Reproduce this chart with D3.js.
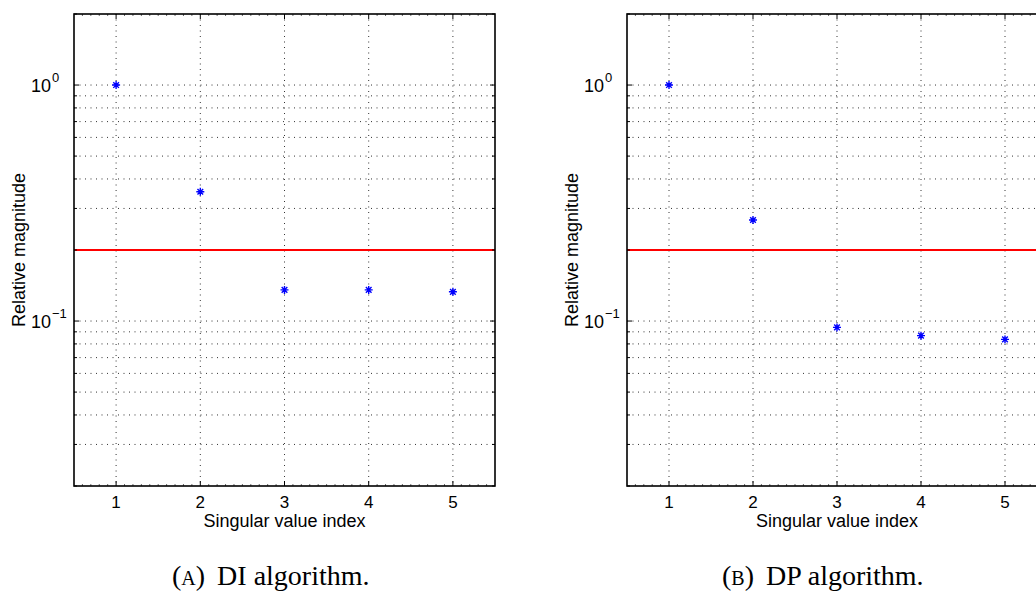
<!DOCTYPE html>
<html>
<head>
<meta charset="utf-8">
<script src="https://cdn.jsdelivr.net/npm/d3@7"></script>
<style>
  body { margin: 0; background: #fff; }
  svg { display: block; }
</style>
</head>
<body>
<svg id="chart" width="1036" height="597"></svg>
<script>
// ---- data ----
const categories = [1, 2, 3, 4, 5];
const diValues = [1.0, 0.353, 0.1355, 0.1355, 0.133];
const dpValues = [1.0, 0.268, 0.094, 0.0867, 0.0836];
const threshold = 0.2;
const yMajorTicks = [0.1, 1];
const yTickExponents = ["\u22121", "0"];
const xLabel = "Singular value index";
const yLabel = "Relative magnitude";
const captions = [["A", "DI algorithm."], ["B", "DP algorithm."]];

const svg = d3.select("#chart");
const panels = [
  { x0: 74, x1: 495, values: diValues, cap: captions[0], capX: 172 },
  { x0: 627, x1: 1047, values: dpValues, cap: captions[1], capX: 722 }
];
const plotTop = 14, plotBottom = 486;
const sans = "Liberation Sans, Arial, Helvetica, sans-serif";

function star(g, cx, cy, r, color) {
  const d = r * Math.SQRT1_2;
  const p = `M${cx - r},${cy}L${cx + r},${cy}M${cx},${cy - r}L${cx},${cy + r}` +
            `M${cx - d},${cy - d}L${cx + d},${cy + d}M${cx - d},${cy + d}L${cx + d},${cy - d}`;
  g.append("path").attr("d", p).attr("stroke", color).attr("stroke-width", 1.4).attr("fill", "none");
}

panels.forEach(p => {
  const g = svg.append("g");
  const x = d3.scaleLinear().domain([0.5, 5.5]).range([p.x0, p.x1]);
  const y = d3.scaleLog().domain([0.02, 2]).range([plotBottom, plotTop]);

  const yAll = [];
  [0.01, 0.1, 1].forEach(dec => { for (let k = 1; k <= 9; k++) { const v = dec * k; if (v >= 0.02 - 1e-9 && v <= 2 + 1e-9) yAll.push(v); } });
  const isMajor = v => yMajorTicks.some(t => Math.abs(t - v) < 1e-9);

  // grid
  yAll.forEach(v => {
    if (Math.abs(v - 2) < 1e-9 || Math.abs(v - 0.02) < 1e-9) return;
    g.append("line").attr("x1", p.x0).attr("x2", p.x1).attr("y1", y(v)).attr("y2", y(v))
      .attr("stroke", "#333").attr("stroke-width", 1).attr("stroke-dasharray", "1,4.5");
  });
  categories.forEach(c => {
    g.append("line").attr("x1", x(c)).attr("x2", x(c)).attr("y1", plotTop).attr("y2", plotBottom)
      .attr("stroke", "#333").attr("stroke-width", 1).attr("stroke-dasharray", "1,4.5");
  });

  // threshold line
  g.append("line").attr("x1", p.x0).attr("x2", p.x1).attr("y1", y(threshold)).attr("y2", y(threshold))
    .attr("stroke", "#ff0000").attr("stroke-width", 2);

  // points
  categories.forEach((c, i) => star(g, x(c), y(p.values[i]), 4, "#0000ff"));

  // ticks
  yAll.forEach(v => {
    const len = isMajor(v) ? 5 : 3;
    g.append("line").attr("x1", p.x0).attr("x2", p.x0 + len).attr("y1", y(v)).attr("y2", y(v)).attr("stroke", "#000");
    g.append("line").attr("x1", p.x1).attr("x2", p.x1 - len).attr("y1", y(v)).attr("y2", y(v)).attr("stroke", "#000");
  });
  d3.range(6, 55).forEach(k => {
    const v = k / 10;
    const major = k % 10 === 0;
    const len = major ? 5 : 2;
    g.append("line").attr("x1", x(v)).attr("x2", x(v)).attr("y1", plotBottom).attr("y2", plotBottom - len).attr("stroke", "#000").attr("stroke-width", major ? 1 : 0.6);
    g.append("line").attr("x1", x(v)).attr("x2", x(v)).attr("y1", plotTop).attr("y2", plotTop + len).attr("stroke", "#000").attr("stroke-width", major ? 1 : 0.6);
  });

  // frame
  g.append("rect").attr("x", p.x0).attr("y", plotTop).attr("width", p.x1 - p.x0).attr("height", plotBottom - plotTop)
    .attr("fill", "none").attr("stroke", "#000").attr("stroke-width", 1.6);

  // x tick labels
  categories.forEach(c => {
    g.append("text").attr("x", x(c)).attr("y", 508).attr("text-anchor", "middle")
      .attr("font-family", sans).attr("font-size", 17).text(c);
  });
  // y tick labels
  yMajorTicks.forEach((t, i) => {
    g.append("text").attr("x", p.x0 - 23).attr("y", y(t) + 7).attr("text-anchor", "end")
      .attr("font-family", sans).attr("font-size", 18).text("10");
    g.append("text").attr("x", p.x0 - 22).attr("y", y(t) - 3).attr("text-anchor", "start")
      .attr("font-family", sans).attr("font-size", 13).text(yTickExponents[i]);
  });

  // axis labels
  g.append("text").attr("x", (p.x0 + p.x1) / 2).attr("y", 527).attr("text-anchor", "middle")
    .attr("font-family", sans).attr("font-size", 18).text(xLabel);
  g.append("text").attr("transform", `translate(${p.x0 - 49},${(plotTop + plotBottom) / 2}) rotate(-90)`)
    .attr("text-anchor", "middle")
    .attr("font-family", sans).attr("font-size", 18).text(yLabel);

  // caption
  const cap = g.append("text").attr("x", p.capX).attr("y", 585)
    .attr("font-family", "Liberation Serif, Times New Roman, serif").attr("font-size", 28);
  cap.append("tspan").text("(");
  cap.append("tspan").attr("font-size", 20).text(p.cap[0]);
  cap.append("tspan").text(")");
  cap.append("tspan").attr("dx", 12).text(p.cap[1]);
});
</script>
</body>
</html>
